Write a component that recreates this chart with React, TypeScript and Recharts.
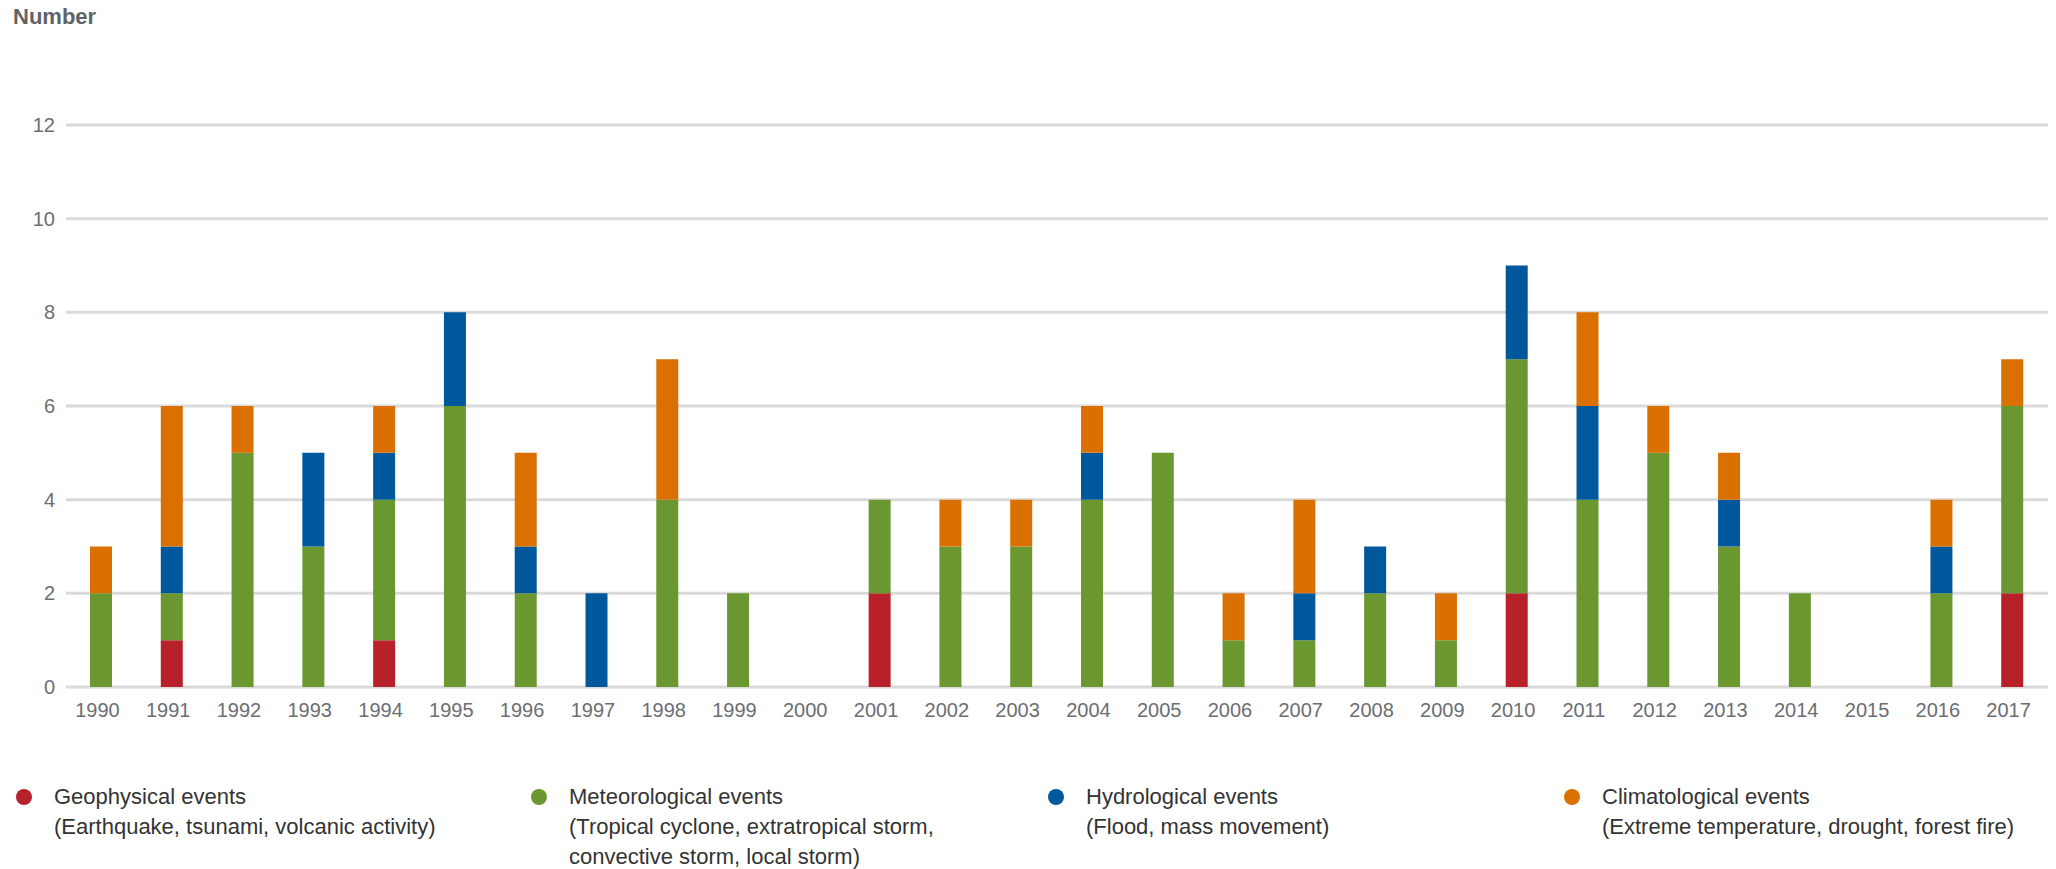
import { BarChart, Bar, XAxis, YAxis, CartesianGrid } from 'recharts'

// Natural catastrophes by event type, 1990–2017
const YEARS = [
  '1990', '1991', '1992', '1993', '1994', '1995', '1996', '1997', '1998', '1999',
  '2000', '2001', '2002', '2003', '2004', '2005', '2006', '2007', '2008', '2009',
  '2010', '2011', '2012', '2013', '2014', '2015', '2016', '2017',
]
const GEOPHYSICAL = [0, 1, 0, 0, 1, 0, 0, 0, 0, 0, 0, 2, 0, 0, 0, 0, 0, 0, 0, 0, 2, 0, 0, 0, 0, 0, 0, 2]
const METEOROLOGICAL = [2, 1, 5, 3, 3, 6, 2, 0, 4, 2, 0, 2, 3, 3, 4, 5, 1, 1, 2, 1, 5, 4, 5, 3, 2, 0, 2, 4]
const HYDROLOGICAL = [0, 1, 0, 2, 1, 2, 1, 2, 0, 0, 0, 0, 0, 0, 1, 0, 0, 1, 1, 0, 2, 2, 0, 1, 0, 0, 1, 0]
const CLIMATOLOGICAL = [1, 3, 1, 0, 1, 0, 2, 0, 3, 0, 0, 0, 1, 1, 1, 0, 1, 2, 0, 1, 0, 2, 1, 1, 0, 0, 1, 1]

const Y_TICKS = [0, 2, 4, 6, 8, 10, 12]

const SERIES = [
  { key: 'geo', label: 'Geophysical events', desc: ['(Earthquake, tsunami, volcanic activity)'], color: '#b8202a' },
  { key: 'met', label: 'Meteorological events', desc: ['(Tropical cyclone, extratropical storm,', 'convective storm, local storm)'], color: '#6a972f' },
  { key: 'hyd', label: 'Hydrological events', desc: ['(Flood, mass movement)'], color: '#00589c' },
  { key: 'cli', label: 'Climatological events', desc: ['(Extreme temperature, drought, forest fire)'], color: '#d97000' },
]

const data = YEARS.map((year, i) => ({
  year,
  geo: GEOPHYSICAL[i],
  met: METEOROLOGICAL[i],
  hyd: HYDROLOGICAL[i],
  cli: CLIMATOLOGICAL[i],
}))

const FONT = '"Liberation Sans", Arial, sans-serif'
const LEGEND_LEFT = [16, 531, 1048, 1564]

export default function App() {
  return (
    <div style={{ position: 'absolute', left: 0, top: 0, width: 2056, height: 869, background: '#fff', fontFamily: FONT }}>
      <div style={{ position: 'absolute', left: 13, top: 6, fontSize: 22, lineHeight: '22px', fontWeight: 700, color: '#5f6368' }}>
        Number
      </div>

      <div style={{ position: 'absolute', left: 0, top: 0 }}>
        <BarChart width={2056} height={740} data={data} barSize={22} margin={{ top: 125, right: 8, left: 0, bottom: 13 }}>
          <CartesianGrid vertical={false} stroke="#dadada" strokeWidth={3} />
          <XAxis
            dataKey="year"
            height={40}
            interval={0}
            axisLine={false}
            tickLine={false}
            tickSize={0}
            tickMargin={16}
            tick={{ fontSize: 20, fill: '#6b6e73', fontFamily: FONT, dx: -4 }}
          />
          <YAxis
            width={66}
            domain={[0, 12]}
            ticks={Y_TICKS}
            interval={0}
            axisLine={false}
            tickLine={false}
            tickSize={0}
            tickMargin={11}
            tick={{ fontSize: 20, fill: '#6b6e73', fontFamily: FONT }}
          />
          {SERIES.map(s => (
            <Bar key={s.key} dataKey={s.key} name={s.label} stackId="a" fill={s.color} isAnimationActive={false} />
          ))}
        </BarChart>
      </div>

      {/* legend: dot + title + description lines */}
      {SERIES.map((s, i) => (
        <div key={s.key} style={{ position: 'absolute', left: LEGEND_LEFT[i], top: 782, fontSize: 22, lineHeight: '30px', color: '#333' }}>
          <div style={{ position: 'absolute', left: 0, top: 7, width: 16, height: 16, borderRadius: '50%', background: s.color }} />
          <div style={{ marginLeft: 38, whiteSpace: 'nowrap' }}>
            <div>{s.label}</div>
            {s.desc.map(line => <div key={line}>{line}</div>)}
          </div>
        </div>
      ))}
    </div>
  )
}
